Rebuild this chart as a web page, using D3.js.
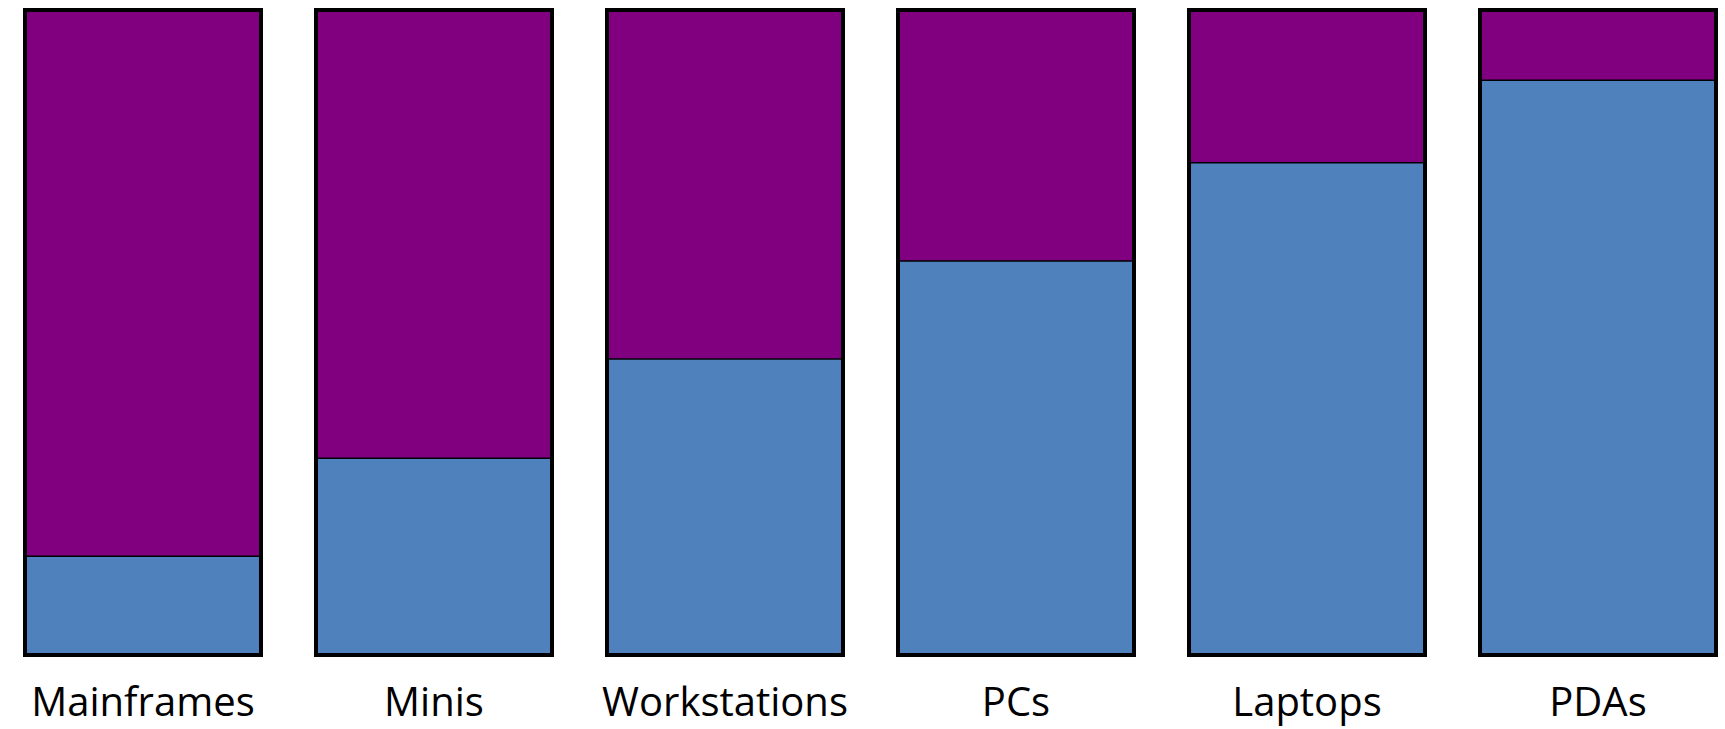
<!DOCTYPE html>
<html>
<head>
<meta charset="utf-8">
<script src="https://cdn.jsdelivr.net/npm/d3@7"></script>
<style>
  html, body { margin: 0; padding: 0; background: #fff; overflow: hidden; }
  svg { display: block; }
</style>
</head>
<body>
<svg id="chart" width="1725" height="729"></svg>
<script>
const categories = ["Mainframes", "Minis", "Workstations", "PCs", "Laptops", "PDAs"];
const blueShare = [0.153, 0.305, 0.459, 0.611, 0.763, 0.891];
const purpleShare = blueShare.map(v => 1 - v);
const colors = { blue: "#4F81BD", purple: "#800080" };

const svg = d3.select("#chart");
const x = d3.scaleBand().domain(categories).range([23, 1718]).paddingInner(0.1753).paddingOuter(0);
const y = d3.scaleLinear().domain([0, 1]).range([655, 10]);
const sw = 4;

const g = svg.append("g");
const bars = g.selectAll("g.bar").data(categories).join("g").attr("class", "bar");

// full bar (blue share as base) with black outline
bars.append("rect")
  .attr("x", d => x(d) + sw / 2)
  .attr("y", y(1))
  .attr("width", x.bandwidth() - sw)
  .attr("height", y(0) - y(1))
  .attr("fill", colors.blue)
  .attr("stroke", "#000")
  .attr("stroke-width", sw);

// purple share stacked on top of the blue share
bars.append("rect")
  .attr("x", d => x(d) + sw)
  .attr("y", (d, i) => y(blueShare[i] + purpleShare[i]) + sw / 2)
  .attr("width", x.bandwidth() - 2 * sw)
  .attr("height", (d, i) => y(blueShare[i]) - y(blueShare[i] + purpleShare[i]) - sw / 2)
  .attr("fill", colors.purple);

// thin divider between the two parts
bars.append("line")
  .attr("x1", d => x(d) + sw)
  .attr("x2", d => x(d) + x.bandwidth() - sw)
  .attr("y1", (d, i) => y(blueShare[i]))
  .attr("y2", (d, i) => y(blueShare[i]))
  .attr("stroke", "#000")
  .attr("stroke-width", 1.5);

// category labels
const axis = d3.axisBottom(x).tickSize(0).tickPadding(0);
const ax = svg.append("g").attr("transform", "translate(0,690)").call(axis);
ax.select(".domain").remove();
ax.selectAll("text")
  .attr("dy", "0")
  .attr("y", 26)
  .attr("fill", "#000")
  .style("font-family", "'Open Sans', sans-serif")
  .style("font-size", "40px");
</script>
</body>
</html>
